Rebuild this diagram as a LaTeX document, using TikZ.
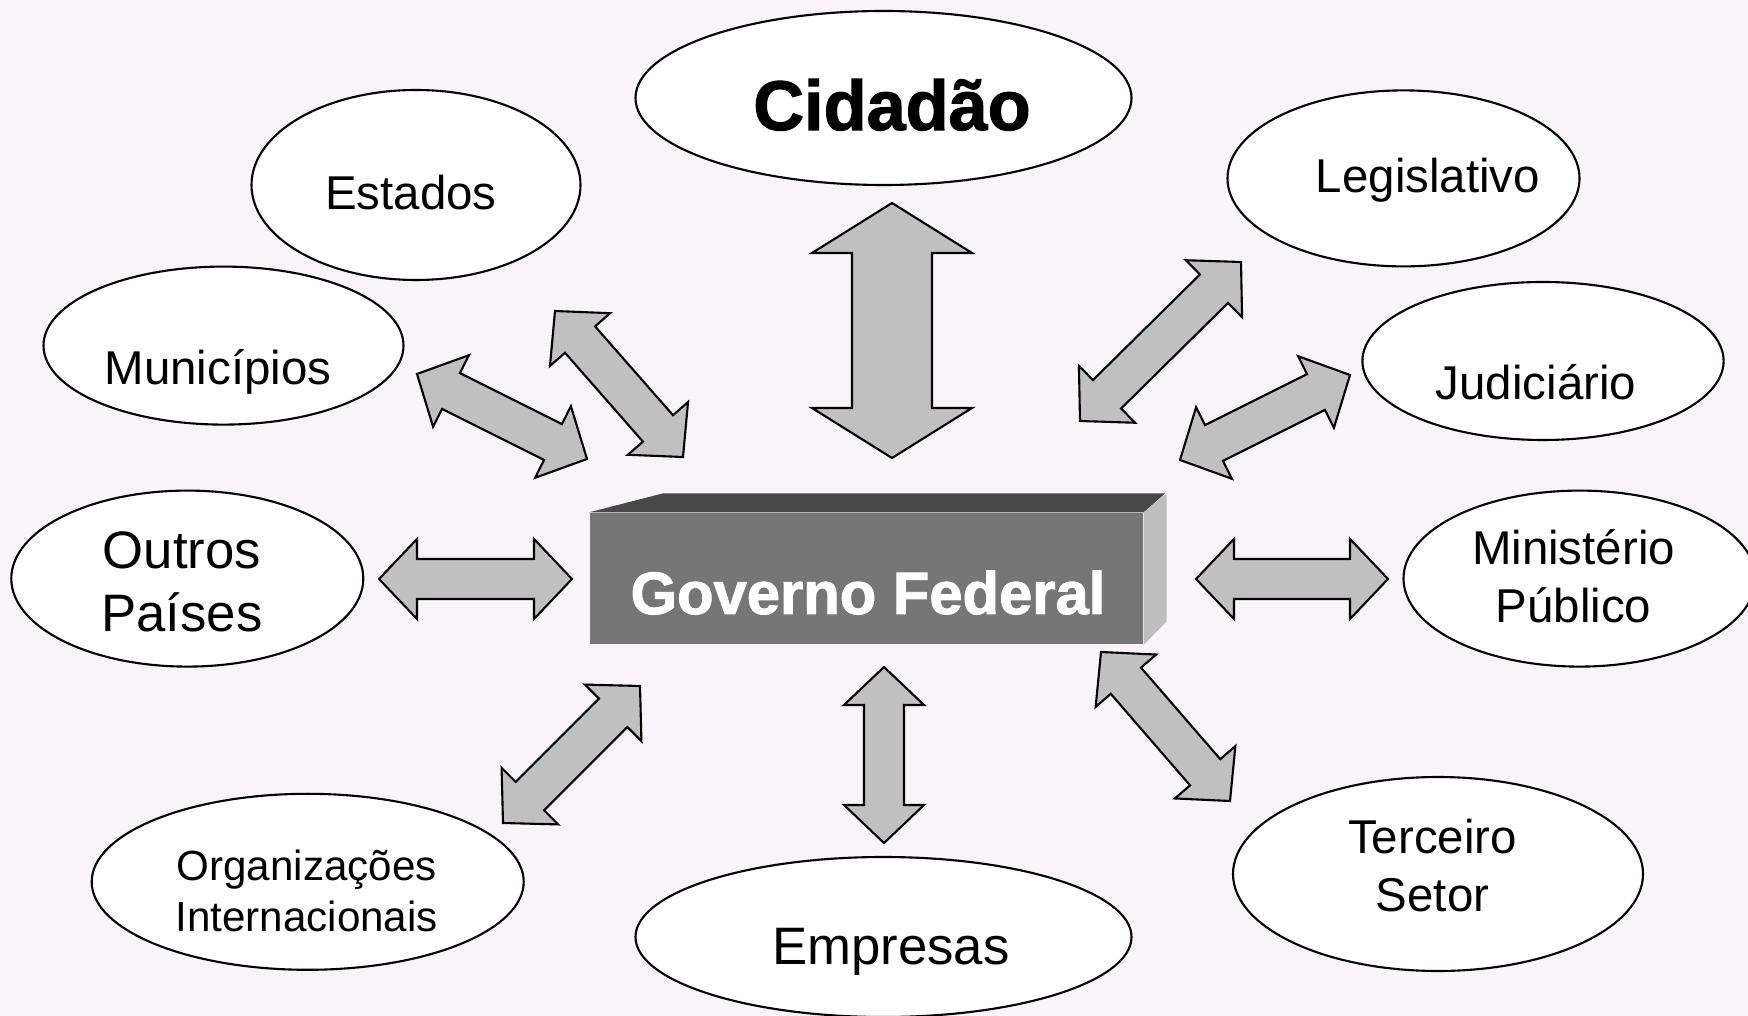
\documentclass[tikz,border=0pt]{standalone}
\usepackage{fontspec}
\setmainfont{Liberation Sans}
\newfontfamily\heavyfont{Liberation Sans}[UprightFont={* Bold}, FakeBold=1.6]
\usepackage{tikz}
\usetikzlibrary{calc}
\definecolor{bgpink}{RGB}{248,244,248}
\definecolor{arrowgray}{RGB}{192,192,192}
\definecolor{boxfront}{RGB}{118,118,118}
\definecolor{boxtop}{RGB}{72,72,72}
\definecolor{boxside}{RGB}{190,190,190}
\tikzset{bubble/.style={draw=black, fill=white, line width=0.6pt},
blockarrow/.style={draw=black, fill=arrowgray, line width=0.6pt, line join=miter},
%default text of the ellipses
txt/.style={anchor=base, font=\fontsize{13.5}{16.5}\selectfont},
bigtxt/.style={font=\fontsize{15}{18}\selectfont, align=center},
smalltxt/.style={font=\fontsize{12}{14.6}\selectfont, align=center},
govbox/.style={fill=boxfront, inner sep=0pt, minimum width=55.3mm, minimum height=13.1mm}}
% head length, head half width, shaft half width
\newcommand{\ahlen}{3.8mm}
\newcommand{\ahwid}{4mm}
\newcommand{\ashaft}{2mm}
\newcommand{\blockarrow}[2]{%
  \draw[blockarrow] (#1)
  -- ($(#1)!\ahlen!(#2)!\ahwid!90:(#2)$)
  -- ($(#1)!\ahlen!(#2)!\ashaft!90:(#2)$)
  -- ($(#2)!\ahlen!(#1)!\ashaft!-90:(#1)$)
  -- ($(#2)!\ahlen!(#1)!\ahwid!-90:(#1)$)
  -- (#2)
  -- ($(#2)!\ahlen!(#1)!\ahwid!90:(#1)$)
  -- ($(#2)!\ahlen!(#1)!\ashaft!90:(#1)$)
  -- ($(#1)!\ahlen!(#2)!\ashaft!-90:(#2)$)
  -- ($(#1)!\ahlen!(#2)!\ahwid!-90:(#2)$)
  -- cycle;}

\begin{document}
\begin{tikzpicture}[x=0.1mm, y=-0.1mm]

\fill[bgpink] (0,0) rectangle (1748,1016);
\useasboundingbox (0,0) rectangle (1748,1016);
\clip (0,0) rectangle (1748,1016);

\draw[bubble] (883.5,98) ellipse (248 and 87);
\draw[bubble] (416,185) ellipse (164.5 and 95);
\draw[bubble] (223.5,345.6) ellipse (180 and 79);
\draw[bubble] (187.3,578.6) ellipse (176 and 88);
\draw[bubble] (307.7,881.8) ellipse (216 and 88);
\draw[bubble] (883.5,937) ellipse (248 and 80);
\draw[bubble] (1438,874) ellipse (205 and 97);
\draw[bubble] (1579.5,578.6) ellipse (176 and 88);
\draw[bubble] (1543,361) ellipse (180.6 and 79);
\draw[bubble] (1403.5,178.4) ellipse (176 and 88);

\node[anchor=base, font=\fontsize{20}{24}\selectfont\heavyfont] (cid) at (892,130) {Cidadão};
\node[txt] (est) at (411,210) {Estados};
\node[txt] (mun) at (218,385) {Municípios};
\node[bigtxt] (out) at (182,582) {Outros\\Países};
\node[smalltxt] (org) at (306.6,890.7) {Organizações\\Internacionais};
\node[anchor=base, font=\fontsize{15}{18}\selectfont] (emp) at (891,964) {Empresas};
\node[txt, align=center, anchor=center] (ter) at (1432.5,865.6) {Terceiro\\Setor};
\node[txt, align=center, anchor=center] (min) at (1573.5,575.8) {Ministério\\Público};
\node[txt] (jud) at (1536,400) {Judiciário};
\node[txt] (leg) at (1428,193) {Legislativo};

% the box in the middle
\node[govbox] (gov) at (866.5,578.5) {};
\fill[boxtop] (gov.north west) -- ++(74,-19) -- ++(502,0) -- (gov.north east) -- cycle;
\fill[boxside] (gov.north east) -- ++(23,-19) -- ++(0,128) -- (gov.south east) -- cycle;
\node[anchor=base, text=white, font=\fontsize{17}{20}\selectfont\heavyfont] (gov-t) at (868,614) {Governo Federal};

\coordinate (cid-a) at (892,203);   \coordinate (cid-b) at (892,458);
\coordinate (est-a) at (555,311);   \coordinate (est-b) at (683,457);
\coordinate (mun-a) at (417,374);   \coordinate (mun-b) at (587,459);
\coordinate (out-a) at (379,579);   \coordinate (out-b) at (572,579);
\coordinate (org-a) at (640,686);   \coordinate (org-b) at (503,823);
\coordinate (emp-a) at (884,667);   \coordinate (emp-b) at (884,843);
\coordinate (ter-a) at (1101,652);  \coordinate (ter-b) at (1230,801);
\coordinate (min-a) at (1196,579);  \coordinate (min-b) at (1388,579);
\coordinate (jud-a) at (1350,375);  \coordinate (jud-b) at (1180,460);
\coordinate (leg-a) at (1241,262);  \coordinate (leg-b) at (1080,421);

{\def\ahlen{5mm}\def\ahwid{8mm}\def\ashaft{4mm}
\blockarrow{cid-a}{cid-b}}
\foreach \n in {est,mun,out,org,emp,ter,min,jud,leg}
  \blockarrow{\n-a}{\n-b};

\end{tikzpicture}
\end{document}
